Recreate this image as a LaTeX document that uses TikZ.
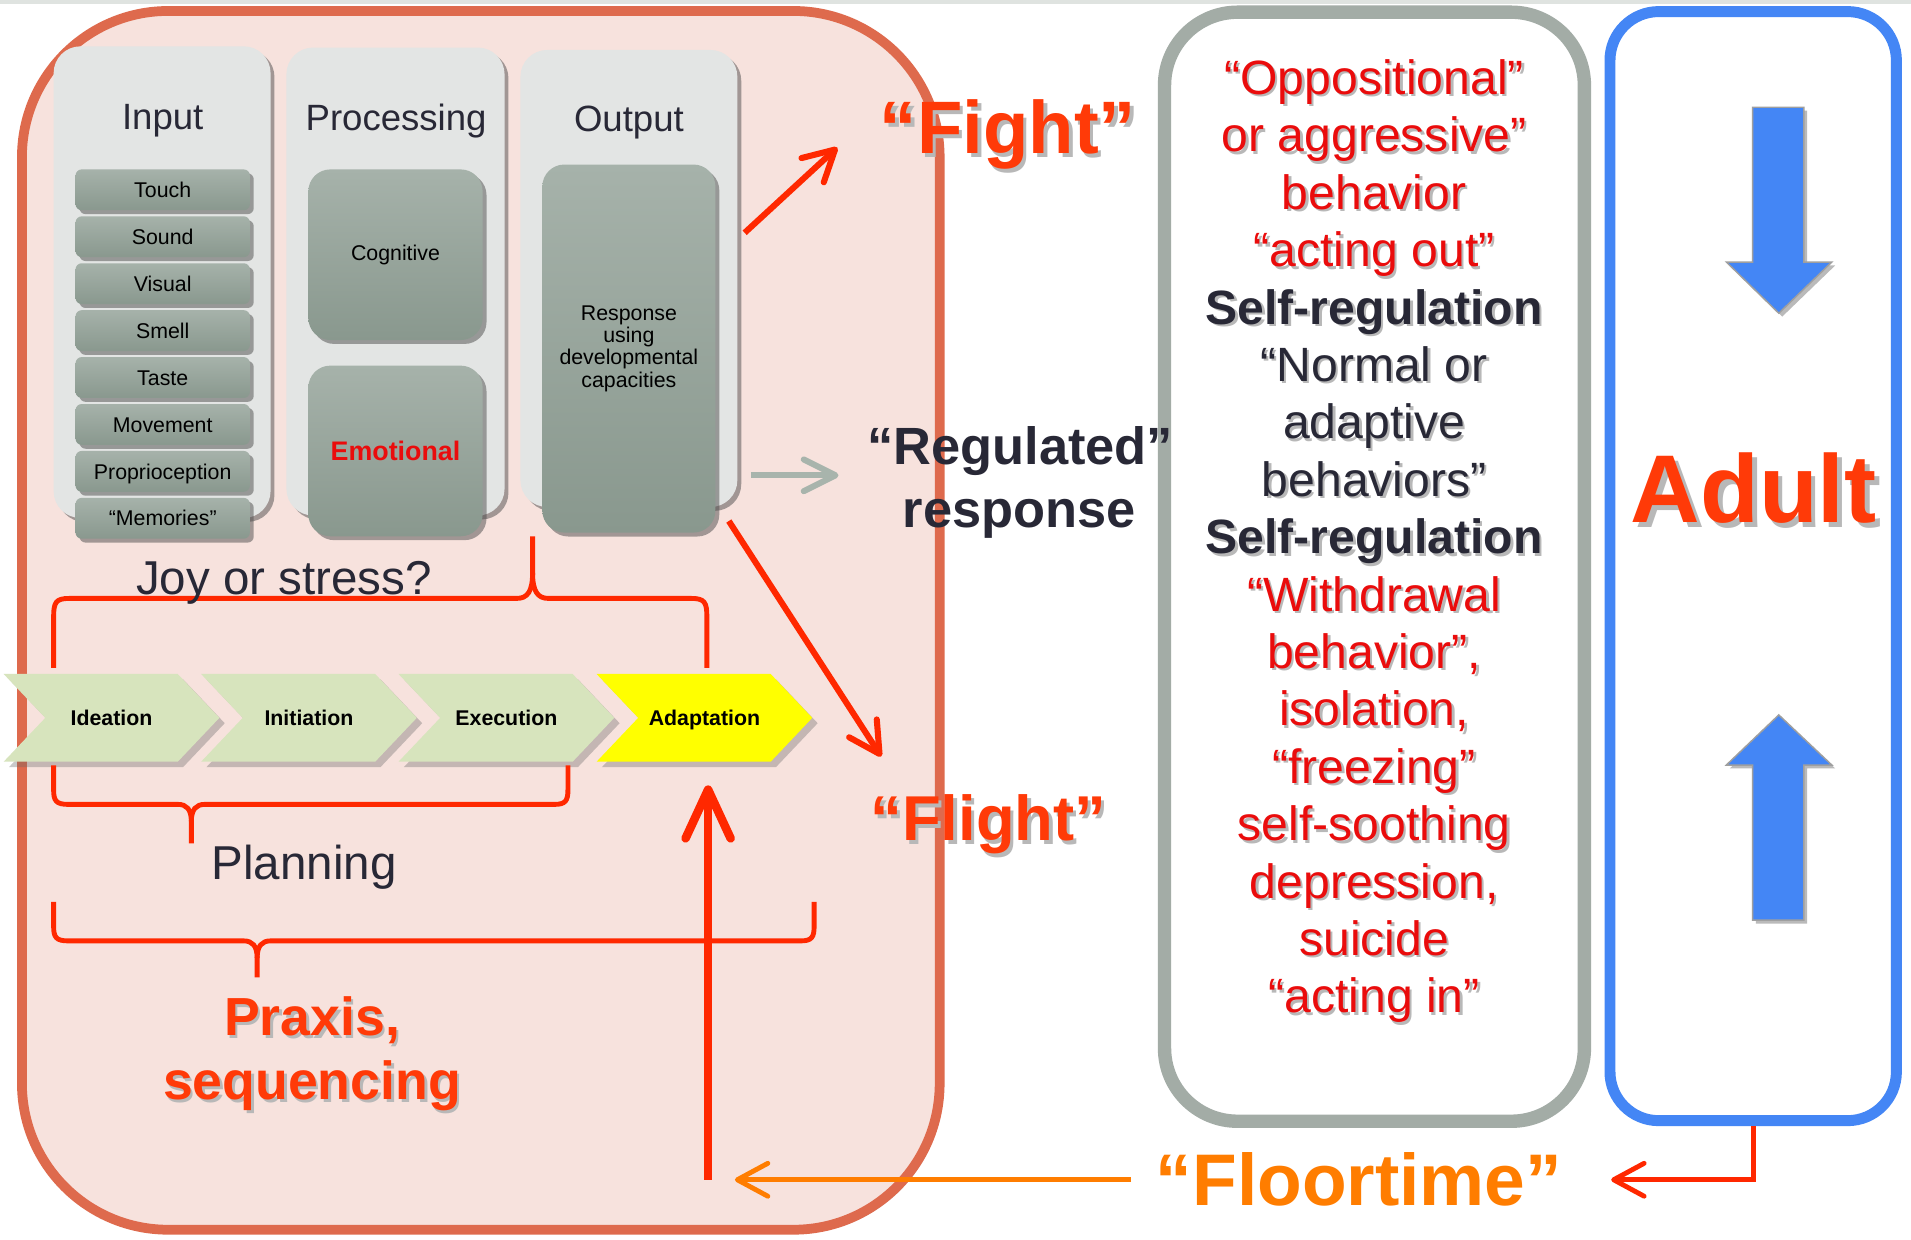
\documentclass[tikz,border=0pt]{standalone}
\usepackage{fontspec}
\setmainfont{Liberation Sans}
\usetikzlibrary{arrows.meta,shadows,shapes.symbols}

\definecolor{bandgray}{RGB}{223,227,224}
\definecolor{pinkfill}{RGB}{247,226,221}
\definecolor{pinkedge}{RGB}{222,106,77}
\definecolor{colgray}{RGB}{227,229,228}
\definecolor{boxlight}{RGB}{166,178,170}
\definecolor{boxdark}{RGB}{137,152,142}
\definecolor{chevgreen}{RGB}{215,228,189}
\definecolor{chevyellow}{RGB}{255,255,0}
\definecolor{hotred}{RGB}{255,40,0}
\definecolor{flamered}{RGB}{255,58,8}
\definecolor{inkdark}{RGB}{40,40,54}
\definecolor{txtred}{RGB}{234,12,12}
\definecolor{framegray}{RGB}{163,172,166}
\definecolor{frameblue}{RGB}{68,134,245}
\definecolor{floorange}{RGB}{255,125,0}
\definecolor{arrowgray}{RGB}{168,180,172}

% font size / baseline skip in pt
\newcommand\fs[2]{\fontsize{#1pt}{#2pt}\selectfont}
% text with a soft grey drop shadow
\newcommand\shd[1]{\rlap{\kern0.05em\raisebox{-0.05em}{\color{black!28}#1}}#1}

\begin{document}
\begin{tikzpicture}[x=0.5pt,y=-0.5pt,
  every node/.style={inner sep=0pt},
  softshadow/.style={drop shadow={shadow xshift=1.6pt,shadow yshift=-1.6pt,fill=black!70,opacity=0.5}},
  column/.style={fill=colgray, rounded corners=11pt, minimum width=89pt, softshadow},
  coltitle/.style={anchor=base, text=inkdark, font=\fs{15}{18}},
  greybox/.style={top color=boxlight, bottom color=boxdark, softshadow},
  sbox/.style={greybox, rounded corners=2.5pt, minimum width=71.5pt, minimum height=16.75pt,
    text height=6.3pt, text depth=0pt, font=\fs{8.75}{10}},
  bbox/.style={greybox, rounded corners=9pt, minimum width=71.5pt, font=\fs{8.75}{9.2}},
  chev/.style={signal, signal to=east, signal from=west, signal pointer angle=93,
    minimum width=88.5pt, minimum height=36pt, text height=6.3pt, text depth=0pt,
    font=\bfseries\fs{8.75}{10},
    drop shadow={shadow xshift=2.2pt,shadow yshift=-2.2pt,fill=black!60,opacity=0.35}},
  brace/.style={draw=hotred, line width=2pt},
  hotarrow/.style={draw=hotred, line width=2.5pt, -{Straight Barb[length=12.5pt,width=13.5pt,round]}},
  bigarrow/.style={draw=hotred, line width=3.5pt, -{Straight Barb[length=20pt,width=18.5pt,round]}},
  greyarrow/.style={draw=arrowgray, line width=2.5pt, -{Straight Barb[length=13pt,width=13pt,round]}},
  thinarrow/.style={line width=2pt, -{Straight Barb[length=12.5pt,width=13.5pt,round]}},
  blockarrow/.style={fill=frameblue, draw=gray!75, line width=0.6pt,
    drop shadow={shadow xshift=1.4pt,shadow yshift=-1.4pt,fill=black!60,opacity=0.45}},
  colred/.style={text=txtred, font=\fs{19.75}{23}},
  coldark/.style={text=inkdark, font=\fs{19.75}{23}},
  colbold/.style={text=inkdark, font=\bfseries\fs{19.75}{23}}
]
\useasboundingbox (0,0) rectangle (1568,1017);
\fill[white] (0,0) rectangle (1568,1017);
\fill[bandgray] (0,0) rectangle (1568,3.5);

% ---------- outer frames ----------
\node[fill=pinkfill, draw=pinkedge, line width=4pt, rounded corners=60pt,
  minimum width=376.5pt, minimum height=500pt,
  drop shadow={shadow xshift=1.4pt,shadow yshift=-1.4pt,fill=black!60,opacity=0.35}]
  (child) at (394.5,509) {};
\node[fill=white, draw=framegray, line width=5.5pt, rounded corners=30pt,
  minimum width=172.25pt, minimum height=455pt,
  drop shadow={shadow xshift=1.4pt,shadow yshift=-1.4pt,fill=black!60,opacity=0.35}]
  (behaviour) at (1127.75,465) {};
\node[fill=white, draw=frameblue, line width=4.5pt, rounded corners=20pt,
  minimum width=117.5pt, minimum height=455pt,
  drop shadow={shadow xshift=1.4pt,shadow yshift=-1.4pt,fill=black!60,opacity=0.35}]
  (bluebox) at (1438.5,464.5) {};

% ---------- input / processing / output columns ----------
\node[column, minimum height=193.5pt] (incol) at (133,231.5) {};
\node[column, minimum width=89.5pt, minimum height=192pt] (proccol) at (324.5,231) {};
\node[column, minimum height=187.5pt] (outcol) at (516,228.5) {};

\node[coltitle] (intitle) at (133.5,106) {Input};
\node[coltitle] (proctitle) at (325,107) {Processing};
\node[coltitle] (outtitle) at (516,107.5) {Output};

\foreach \t [count=\i from 0] in {Touch,Sound,Visual,Smell,Taste,Movement,Proprioception,“Memories”}
  \node[sbox] (in\i) at (133.5,{155.75+38.5*\i}) {\t};

\node[bbox, minimum height=70pt] (cog) at (324.5,209) {Cognitive};
\node[bbox, minimum height=70pt, text=txtred, font=\bfseries\fs{11}{13}] (emo) at (324.5,370) {Emotional};
\node[bbox, minimum width=71pt, minimum height=151pt, align=center] (resp) at (516,286)
  {Response\\using\\developmental\\capacities};

% ---------- planning chevrons ----------
\node[chev, fill=chevgreen] (ideation) at (91.5,589) {Ideation};
\node[chev, fill=chevgreen] (initiation) at (253.5,589) {Initiation};
\node[chev, fill=chevgreen] (execution) at (415.5,589) {Execution};
\node[chev, fill=chevyellow] (adaptation) at (578,589) {Adaptation};

% ---------- braces ----------
\draw[brace] (44,548) -- (44,506) .. controls (44,494) and (46,491) .. (57,491) -- (424,491)
  .. controls (433,491) and (437,485) .. (437,470) -- (437,440);
\draw[brace] (437,470) .. controls (437,485) and (441,491) .. (450,491) -- (567,491)
  .. controls (578,491) and (580,494) .. (580,506) -- (580,548);

\draw[brace] (44,628) -- (44,648) .. controls (44,657) and (46,660) .. (56,660) -- (146,660)
  .. controls (153,660) and (157,664) .. (157,674) -- (157,692);
\draw[brace] (157,674) .. controls (157,664) and (161,660) .. (168,660) -- (455,660)
  .. controls (464,660) and (466,657) .. (466,648) -- (466,628);

\draw[brace] (44,740) -- (44,760) .. controls (44,769) and (46,772) .. (56,772) -- (200,772)
  .. controls (207,772) and (211,776) .. (211,786) -- (211,802);
\draw[brace] (211,786) .. controls (211,776) and (215,772) .. (222,772) -- (657,772)
  .. controls (666,772) and (668,769) .. (668,760) -- (668,740);

% ---------- labels in the left frame ----------
\node[anchor=base, text=inkdark, font=\fs{19.5}{23}] (joy) at (233,488) {Joy or stress?};
\node[anchor=base, text=inkdark, font=\fs{19.5}{23}] (planning) at (249.5,722) {Planning};
\node[anchor=base, text=flamered, font=\bfseries\fs{22}{26}] (praxis) at (256,850) {\shd{Praxis,}};
\node[anchor=base, text=flamered, font=\bfseries\fs{22}{26}] (sequencing) at (256,902) {\shd{sequencing}};

% ---------- responses ----------
\node[anchor=base, text=flamered, font=\bfseries\fs{30.5}{36}] (fight) at (827,126) {\shd{“Fight”}};
\node[anchor=base, text=inkdark, font=\bfseries\fs{21.5}{26}] (regulated) at (837,381.5) {“Regulated”};
\node[anchor=base, text=inkdark, font=\bfseries\fs{21.5}{26}] (response) at (836.5,433) {response};
\node[anchor=base, text=flamered, font=\bfseries\fs{26}{31}] (flight) at (811,690) {\shd{“Flight”}};

\coordinate (fightTail) at (611,191);
\coordinate (fightTip) at (687,121);
\coordinate (regTail) at (616,390);
\coordinate (regTip) at (688,390);
\coordinate (flightTail) at (598,427.5);
\coordinate (flightTip) at (723,620.7);
\draw[hotarrow] (fightTail) -- (fightTip);
\draw[greyarrow] (regTail) -- (regTip);
\draw[hotarrow] (flightTail) -- (flightTip);

% ---------- behaviour list ----------
\foreach \s/\t [count=\i from 0] in {
  colred/{“Oppositional”}, colred/{or aggressive”}, colred/{behavior}, colred/{“acting out”},
  colbold/{Self-regulation}, coldark/{“Normal or}, coldark/{adaptive}, coldark/{behaviors”},
  colbold/{Self-regulation}, colred/{“Withdrawal}, colred/{behavior”,}, colred/{isolation,},
  colred/{“freezing”}, colred/{self-soothing}, colred/{depression,}, colred/{suicide},
  colred/{“acting in”}}
  \node[\s, anchor=base] (beh\i) at (1127.5,{77.5+47.1*\i}) {\shd{\t}};

% ---------- adult column ----------
\fill[blockarrow] (1438,88) -- (1480,88) -- (1480,215) -- (1503,215) -- (1459.5,257)
  -- (1416.5,215) -- (1438,215) -- cycle;
\fill[blockarrow] (1438,755) -- (1480,755) -- (1480,627.7) -- (1503,627.7) -- (1459.5,586.6)
  -- (1416.5,627.7) -- (1438,627.7) -- cycle;
\node[anchor=base, text=flamered, font=\bfseries\fs{39.5}{46}] (adult) at (1439,428.5) {\shd{Adult}};

% ---------- floortime loop ----------
\node[anchor=base, text=floorange, font=\bfseries\fs{30}{36}] (floortime) at (1115,989) {“Floortime”};
\coordinate (upBase) at (581,968);
\coordinate (ftTail) at (928,968);
\coordinate (adultTip) at (1322,968);
\draw[bigarrow] (upBase) -- ([yshift=-9.5pt]upBase |- adaptation.south);
\draw[thinarrow, draw=floorange] (ftTail) -- ([xshift=11pt]upBase);
\draw[thinarrow, draw=hotred] (bluebox.south) |- (adultTip);
\end{tikzpicture}
\end{document}
